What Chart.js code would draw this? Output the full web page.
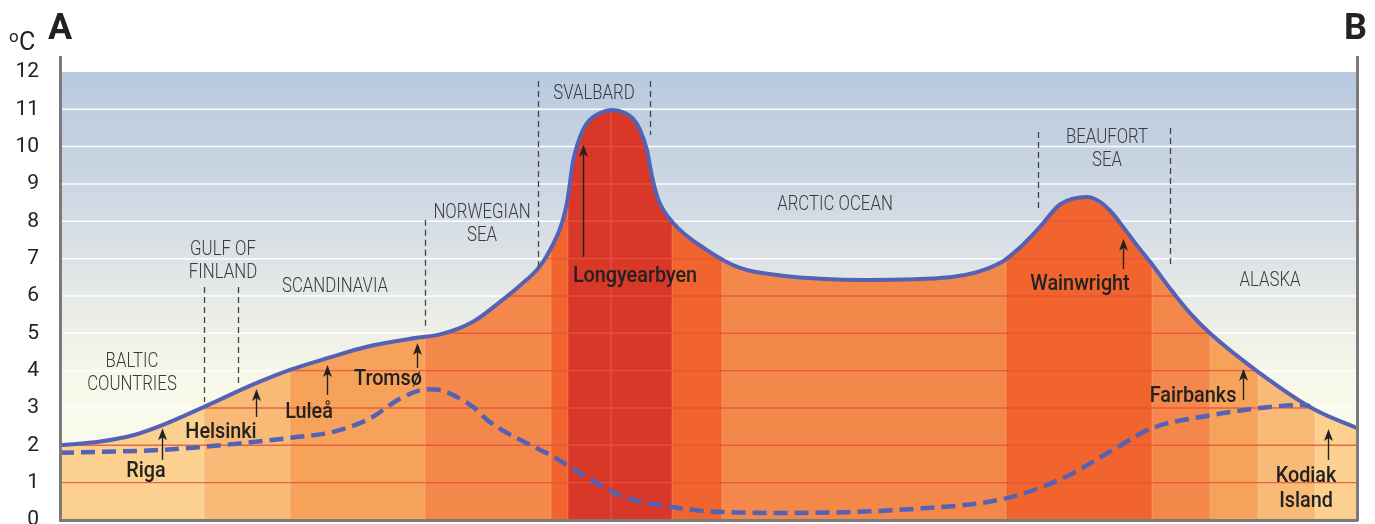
<!DOCTYPE html>
<html>
<head>
<meta charset="utf-8">
<script src="https://cdn.jsdelivr.net/npm/chart.js@4.4.1/dist/chart.umd.min.js"></script>
<style>
  html, body { margin: 0; padding: 0; background: #fff; }
</style>
</head>
<body>
<canvas id="profile" width="1375" height="524"></canvas>
<script>
// distance along the A -> B transect (arbitrary units) and temperature (ºC)
const surfaceDist = [0, 40, 73, 103, 144, 195, 230, 268, 307, 357, 380, 413, 440, 460, 480, 493, 500, 505, 508, 513, 518, 523, 530, 540, 552, 565, 573, 580, 587, 592, 598, 613, 647, 680, 720, 807, 890, 940, 960, 980, 1000, 1027, 1040, 1053, 1063, 1080, 1092, 1110, 1130, 1150, 1198, 1255, 1297];
const surfaceTemp = [2.0, 2.1, 2.27, 2.55, 3.03, 3.65, 4.02, 4.34, 4.64, 4.88, 4.97, 5.31, 5.84, 6.28, 6.8, 7.38, 7.8, 8.25, 8.65, 9.6, 10.1, 10.45, 10.72, 10.9, 10.98, 10.9, 10.75, 10.45, 9.9, 9.2, 8.6, 7.96, 7.23, 6.75, 6.55, 6.43, 6.5, 6.88, 7.3, 7.85, 8.45, 8.65, 8.52, 8.2, 7.85, 7.25, 6.85, 6.2, 5.54, 5.0, 3.97, 2.95, 2.46];

const deepDist = [0, 103, 144, 230, 273, 310, 340, 368, 380, 400, 413, 431, 480, 493, 520, 543, 563, 612, 640, 726, 855, 946, 1006, 1053, 1092, 1150, 1197, 1243, 1250];
const deepTemp = [1.8, 1.88, 1.96, 2.2, 2.36, 2.72, 3.25, 3.5, 3.48, 3.25, 3.03, 2.6, 1.88, 1.7, 1.26, 0.9, 0.62, 0.35, 0.25, 0.19, 0.3, 0.58, 1.16, 1.88, 2.46, 2.8, 2.99, 3.08, 3.05];

const yTicks = [0, 1, 2, 3, 4, 5, 6, 7, 8, 9, 10, 11, 12];
const skyTop = 12;
const distMax = 1297;

// coloured columns under the surface curve
const bandEdges = [0, 144, 230, 365, 491, 508, 612, 662, 946, 1092, 1150, 1198, 1255, 1297];
const bandColors = ["#FCD190", "#F8BA76", "#F6A25B", "#F4874A", "#F2642E", "#D93828", "#F2642E", "#F4874A", "#F2642E", "#F4874A", "#F6A25B", "#F8BA76", "#FCD190"];
const lightLines = [144, 230, 365, 491, 508, 551, 612, 662, 946, 1092, 1150, 1198, 1255];

// text: [lines, dist, baseline temp]
const regions = [
  [["BALTIC", "COUNTRIES"], 72, 4.1],
  [["GULF OF", "FINLAND"], 163, 7.1],
  [["SCANDINAVIA"], 275, 6.11],
  [["NORWEGIAN", "SEA"], 422, 8.09],
  [["SVALBARD"], 534, 11.28],
  [["ARCTIC OCEAN"], 775, 8.3],
  [["BEAUFORT", "SEA"], 1047, 10.1],
  [["ALASKA"], 1210, 6.27]
];
// [dist, from, to]
const separators = [
  [144, 6.24, 3.16], [178, 6.24, 3.62], [365, 8.04, 5.09], [478, 11.76, 6.7],
  [590, 11.76, 10.31], [978, 10.39, 8.3], [1110, 10.5, 6.75]
];
// [lines, text dist, baseline temp, arrow dist, arrow tail, arrow tip]
const places = [
  [["Riga"], 86, 1.15, 102, 1.61, 2.46],
  [["Helsinki"], 161, 2.2, 196, 2.76, 3.51],
  [["Luleå"], 249, 2.73, 267, 3.35, 4.15],
  [["Tromsø"], 328, 3.62, 357, 4.07, 4.74],
  [["Longyearbyen"], 575, 6.38, 523, 7.05, 10.05],
  [["Wainwright"], 1020, 6.16, 1063, 6.72, 7.53],
  [["Fairbanks"], 1133, 3.16, 1183, 3.21, 4.05],
  [["Kodiak", "Island"], 1246, 1.02, 1268, 1.61, 2.44]
];

const toXY = (xs, ys) => xs.map((v, i) => ({ x: v, y: ys[i] }));

function bandFill(context) {
  const chart = context.chart;
  const area = chart.chartArea;
  if (!area) return bandColors[0];
  const x = chart.scales.x;
  const w = area.right - area.left;
  const g = chart.ctx.createLinearGradient(area.left, 0, area.right, 0);
  const pos = (d) => Math.min(1, Math.max(0, (x.getPixelForValue(d) - area.left) / w));
  for (let i = 0; i < bandColors.length; i++) {
    g.addColorStop(pos(bandEdges[i]), bandColors[i]);
    g.addColorStop(pos(bandEdges[i + 1]), bandColors[i]);
  }
  return g;
}

function skyFill(context) {
  const chart = context.chart;
  if (!chart.chartArea) return "#dfe5ea";
  const y = chart.scales.y;
  const g = chart.ctx.createLinearGradient(0, y.getPixelForValue(skyTop), 0, y.getPixelForValue(0));
  g.addColorStop(0, "#B8C9DF");
  g.addColorStop(0.25, "#CCD6E3");
  g.addColorStop(0.45, "#E0E5E7");
  g.addColorStop(0.58, "#EEF0E7");
  g.addColorStop(0.7, "#F8F9EA");
  g.addColorStop(1, "#FBFCEC");
  return g;
}

// narrow text, like the condensed face of the original
function narrowText(ctx, s, px, py, sx) {
  ctx.save();
  ctx.translate(px, py);
  ctx.scale(sx, 1);
  ctx.fillText(s, 0, 0);
  ctx.restore();
}

function drawArrow(ctx, px, yTail, yTip) {
  ctx.beginPath();
  ctx.moveTo(px, yTail);
  ctx.lineTo(px, yTip + 8);
  ctx.stroke();
  ctx.beginPath();
  ctx.moveTo(px, yTip);
  ctx.lineTo(px - 4.5, yTip + 12);
  ctx.lineTo(px, yTip + 9);
  ctx.lineTo(px + 4.5, yTip + 12);
  ctx.closePath();
  ctx.fill();
}

const overlay = {
  id: "overlay",
  afterDatasetDraw(chart, args) {
    // white grid across the sky
    if (args.index !== 2) return;
    const { ctx, chartArea: area, scales: { y } } = chart;
    ctx.save();
    ctx.strokeStyle = "rgba(255,255,255,0.95)";
    ctx.lineWidth = 1.5;
    yTicks.slice(1, -1).forEach((t) => {
      const py = y.getPixelForValue(t);
      ctx.beginPath();
      ctx.moveTo(area.left, py);
      ctx.lineTo(area.right, py);
      ctx.stroke();
    });
    ctx.restore();
  },
  beforeDatasetDraw(chart, args) {
    // reddish grid inside the filled profile
    if (args.index !== 0) return;
    const { ctx, chartArea: area, scales: { x, y } } = chart;
    ctx.save();
    ctx.beginPath();
    args.meta.dataset.path(ctx);
    ctx.lineTo(area.right, y.getPixelForValue(0));
    ctx.lineTo(area.left, y.getPixelForValue(0));
    ctx.closePath();
    ctx.clip();
    ctx.strokeStyle = "rgba(255,255,255,0.16)";
    ctx.lineWidth = 1.2;
    lightLines.forEach((d) => {
      const px = x.getPixelForValue(d);
      ctx.beginPath();
      ctx.moveTo(px, area.top);
      ctx.lineTo(px, area.bottom);
      ctx.stroke();
    });
    ctx.strokeStyle = "rgba(230,84,58,0.85)";
    ctx.lineWidth = 1.4;
    yTicks.slice(1, -1).forEach((t) => {
      const py = y.getPixelForValue(t);
      ctx.beginPath();
      ctx.moveTo(area.left, py);
      ctx.lineTo(area.right, py);
      ctx.stroke();
    });
    ctx.restore();
  },
  afterDatasetsDraw(chart) {
    const { ctx, scales: { x, y } } = chart;
    ctx.save();
    ctx.strokeStyle = "#444";
    ctx.lineWidth = 1.3;
    ctx.setLineDash([6, 4]);
    separators.forEach(([d, a, b]) => {
      const px = Math.round(x.getPixelForValue(d)) + 0.5;
      ctx.beginPath();
      ctx.moveTo(px, y.getPixelForValue(a));
      ctx.lineTo(px, y.getPixelForValue(b));
      ctx.stroke();
    });
    ctx.setLineDash([]);

    ctx.textAlign = "center";
    ctx.textBaseline = "alphabetic";
    ctx.fillStyle = "#3a3a3a";
    ctx.font = "300 20px Roboto";
    regions.forEach(([lines, d, t]) => {
      const px = x.getPixelForValue(d);
      const py = y.getPixelForValue(t);
      lines.forEach((s, i) => narrowText(ctx, s, px, py + i * 23, 0.84));
    });

    ctx.fillStyle = "#222";
    ctx.strokeStyle = "#222";
    ctx.lineWidth = 1.4;
    ctx.font = "500 22px Roboto";
    places.forEach(([lines, d, t, ad, a0, a1]) => {
      const px = x.getPixelForValue(d);
      const py = y.getPixelForValue(t);
      lines.forEach((s, i) => narrowText(ctx, s, px, py + i * 25, 0.9));
      drawArrow(ctx, Math.round(x.getPixelForValue(ad)) + 0.5, y.getPixelForValue(a0), y.getPixelForValue(a1));
    });
    ctx.restore();
  },
  afterDraw(chart) {
    const ctx = chart.ctx;
    ctx.save();
    ctx.fillStyle = "#222";
    ctx.textBaseline = "alphabetic";
    ctx.textAlign = "left";
    ctx.font = "400 17px Roboto";
    ctx.fillText("o", 9, 42);
    ctx.font = "400 25px Roboto";
    ctx.fillText("C", 19, 50);
    ctx.font = "700 36px Roboto";
    ctx.fillText("A", 48, 39);
    ctx.textAlign = "right";
    ctx.fillText("B", 1367, 39);
    ctx.restore();
  }
};

const axisBorder = { display: true, color: "#7a7a7a", width: 3, z: 1 };

new Chart(document.getElementById("profile"), {
  type: "line",
  data: {
    datasets: [
      {
        data: toXY(surfaceDist, surfaceTemp),
        borderColor: "#5462B6",
        borderWidth: 4,
        backgroundColor: bandFill,
        fill: "origin",
        cubicInterpolationMode: "monotone",
        pointRadius: 0,
        order: 2
      },
      {
        data: toXY(deepDist, deepTemp),
        borderColor: "#5462B6",
        borderWidth: 4.5,
        borderDash: [14, 7],
        fill: false,
        cubicInterpolationMode: "monotone",
        pointRadius: 0,
        order: 1
      },
      {
        data: toXY([0, distMax], [skyTop, skyTop]),
        borderWidth: 0,
        backgroundColor: skyFill,
        fill: "origin",
        pointRadius: 0,
        order: 3
      }
    ]
  },
  options: {
    responsive: false,
    animation: false,
    devicePixelRatio: 1,
    layout: { padding: { left: 0, right: 18, top: 57, bottom: 0 } },
    plugins: { legend: { display: false }, tooltip: { enabled: false } },
    scales: {
      x: {
        type: "linear",
        min: 0,
        max: distMax,
        grid: { display: false },
        ticks: { display: false },
        border: axisBorder,
        afterFit(scale) { scale.height = 4; }
      },
      y: {
        min: 0,
        max: 12.4,
        grid: { display: false },
        border: axisBorder,
        afterBuildTicks(scale) { scale.ticks = yTicks.map((v) => ({ value: v })); },
        ticks: { color: "#222", padding: 13, font: { family: "Roboto", size: 21 } },
        afterFit(scale) { scale.width = 60; scale.paddingTop = 0; scale.paddingBottom = 0; }
      },
      y2: {
        position: "right",
        min: 0,
        max: 12.4,
        grid: { display: false },
        ticks: { display: false },
        border: axisBorder,
        afterFit(scale) { scale.width = 0; }
      }
    }
  },
  plugins: [overlay]
});
</script>
</body>
</html>
